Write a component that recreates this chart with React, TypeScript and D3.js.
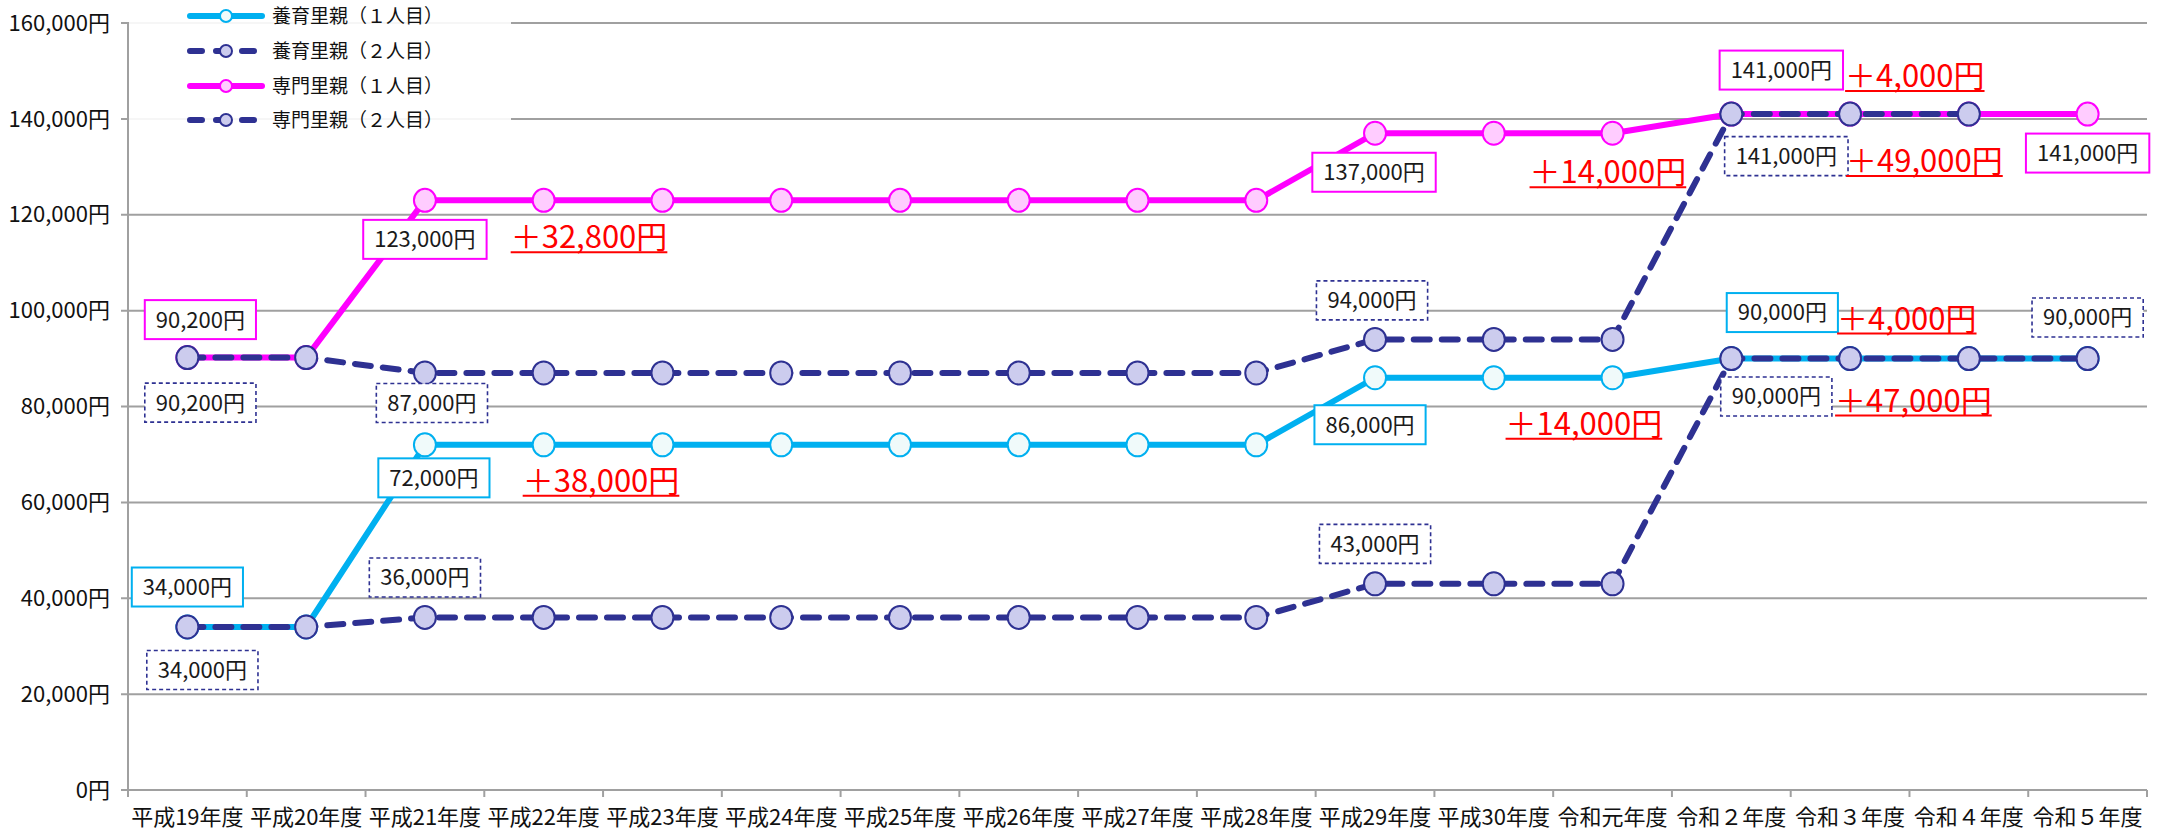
import React, { useEffect, useRef } from "react";
import * as d3 from "d3";

const categories = [
  "平成19年度", "平成20年度", "平成21年度", "平成22年度", "平成23年度", "平成24年度",
  "平成25年度", "平成26年度", "平成27年度", "平成28年度", "平成29年度", "平成30年度",
  "令和元年度", "令和２年度", "令和３年度", "令和４年度", "令和５年度",
];

const yoiku1 = [34000, 34000, 72000, 72000, 72000, 72000, 72000, 72000, 72000, 72000, 86000, 86000, 86000, 90000, 90000, 90000, 90000];
const yoiku2 = [34000, 34000, 36000, 36000, 36000, 36000, 36000, 36000, 36000, 36000, 43000, 43000, 43000, 90000, 90000, 90000, 90000];
const senmon1 = [90200, 90200, 123000, 123000, 123000, 123000, 123000, 123000, 123000, 123000, 137000, 137000, 137000, 141000, 141000, 141000, 141000];
const senmon2: (number | null)[] = [90200, 90200, 87000, 87000, 87000, 87000, 87000, 87000, 87000, 87000, 94000, 94000, 94000, 141000, 141000, 141000, null];

const seriesNames = ["養育里親（１人目）", "養育里親（２人目）", "専門里親（１人目）", "専門里親（２人目）"];

const yTicks = [0, 20000, 40000, 60000, 80000, 100000, 120000, 140000, 160000];

// data labels: series index, category index
const dataLabels = [
  { s: 2, c: 0 }, { s: 3, c: 0 }, { s: 2, c: 2 }, { s: 3, c: 2 }, { s: 0, c: 2 },
  { s: 0, c: 0 }, { s: 1, c: 0 }, { s: 1, c: 2 },
  { s: 2, c: 10 }, { s: 3, c: 10 }, { s: 0, c: 10 }, { s: 1, c: 10 },
  { s: 2, c: 13 }, { s: 3, c: 13 }, { s: 2, c: 16 }, { s: 0, c: 13 }, { s: 1, c: 13 }, { s: 1, c: 16 },
];
// offsets of label centers from their points (layout)
const dataLabelOffsets = [
  [13, -38], [13, 45], [0, 39], [7, 30], [9, 33],
  [0, -40], [15, 43], [0, -40],
  [-1, 39], [-3, -39], [-5, 47], [0, -40],
  [50, -44], [55, 42], [0, 39], [51, -46], [45, 38], [0, -41],
];

// increase annotations: text, anchor series, anchor category
const increases = [
  { text: "＋32,800円", s: 2, c: 3 },
  { text: "＋38,000円", s: 0, c: 3 },
  { text: "＋14,000円", s: 2, c: 12 },
  { text: "＋14,000円", s: 0, c: 12 },
  { text: "＋4,000円", s: 2, c: 14 },
  { text: "＋49,000円", s: 3, c: 14 },
  { text: "＋4,000円", s: 0, c: 14 },
  { text: "＋47,000円", s: 1, c: 14 },
];
const increaseOffsets = [
  [-33, 48], [-21, 47], [-83, 50], [-107, 57], [-5, -27], [-4, 58], [-13, -29], [-15, 53],
];

const W = 2161;
const H = 830;
const FONT = "'Noto Sans CJK JP', 'Noto Sans', sans-serif";

export default function App() {
  const ref = useRef<SVGSVGElement>(null);

  useEffect(() => {
    const svg = d3.select(ref.current);
    svg.selectAll("*").remove();

    const left = 128, right = 2147, top = 23, bottom = 790;
    const x = d3.scaleBand<string>().domain(categories).range([left, right]);
    const y = d3.scaleLinear().domain([0, 160000]).range([bottom, top]);
    const cx = (i: number) => (x(categories[i]) as number) + x.bandwidth() / 2;

    const allSeries = [yoiku1, yoiku2, senmon1, senmon2];
    const styles = [
      { color: "#00B0F0", fill: "#F0FAFA", dashed: false, markerStroke: "#00B0F0" },
      { color: "#2E3192", fill: "#CCCCEE", dashed: true, markerStroke: "#2E3192" },
      { color: "#FF00FF", fill: "#FFCCFF", dashed: false, markerStroke: "#FF00FF" },
      { color: "#2E3192", fill: "#CCCCEE", dashed: true, markerStroke: "#2E3192" },
    ];

    // gridlines
    const g = svg.append("g");
    g.selectAll("line.grid")
      .data(yTicks)
      .enter()
      .append("line")
      .attr("x1", left - 7)
      .attr("x2", right)
      .attr("y1", (d) => y(d))
      .attr("y2", (d) => y(d))
      .attr("stroke", "#A0A0A0")
      .attr("stroke-width", 2);

    // y axis line
    g.append("line").attr("x1", left).attr("x2", left).attr("y1", top).attr("y2", bottom + 7)
      .attr("stroke", "#A0A0A0").attr("stroke-width", 2);

    // x ticks
    const boundaries = d3.range(categories.length + 1).map((i) => left + i * x.bandwidth());
    g.selectAll("line.xt").data(boundaries).enter().append("line")
      .attr("x1", (d) => d).attr("x2", (d) => d).attr("y1", bottom).attr("y2", bottom + 7)
      .attr("stroke", "#A0A0A0").attr("stroke-width", 2);

    // y labels
    g.selectAll("text.yl").data(yTicks).enter().append("text")
      .attr("x", left - 18).attr("y", (d) => y(d)).attr("dy", "0.35em")
      .attr("text-anchor", "end").attr("font-family", FONT).attr("font-size", 22).attr("fill", "#111")
      .text((d) => d3.format(",")(d) + "円");

    // x labels
    g.selectAll("text.xl").data(categories).enter().append("text")
      .attr("x", (_d, i) => cx(i)).attr("y", 825)
      .attr("text-anchor", "middle").attr("font-family", FONT).attr("font-size", 22).attr("fill", "#111")
      .text((d) => d);

    const drawOrder = [0, 2, 1, 3];
    drawOrder.forEach((si) => {
      const data = allSeries[si];
      const st = styles[si];
      const line = d3.line<number | null>()
        .defined((d) => d !== null)
        .x((_d, i) => cx(i))
        .y((d) => y(d as number));
      svg.append("path").datum(data).attr("d", line as any)
        .attr("fill", "none").attr("stroke", st.color).attr("stroke-width", 6)
        .attr("stroke-linecap", st.dashed ? "round" : "butt")
        .attr("stroke-linejoin", "round")
        .attr("stroke-dasharray", st.dashed ? "16 12" : null);
      const pts = data.map((v, i) => ({ v, i })).filter((p) => p.v !== null);
      svg.append("g").selectAll("ellipse").data(pts).enter().append("ellipse")
        .attr("cx", (p) => cx(p.i)).attr("cy", (p) => y(p.v as number))
        .attr("rx", 11).attr("ry", 11.5)
        .attr("fill", st.fill).attr("stroke", st.markerStroke).attr("stroke-width", 2);
    });

    // data labels
    dataLabels.forEach((lb, k) => {
      const v = allSeries[lb.s][lb.c] as number;
      const [dx, dy] = dataLabelOffsets[k];
      const px = cx(lb.c) + dx;
      const py = y(v) + dy;
      const st = styles[lb.s];
      const lg = svg.append("g");
      const rect = lg.append("rect");
      const t = lg.append("text")
        .attr("x", px).attr("y", py).attr("dy", "0.36em").attr("text-anchor", "middle")
        .attr("font-family", FONT).attr("font-size", 22).attr("fill", "#1a1a1a")
        .text(d3.format(",")(v) + "円");
      const tw = (t.node() as SVGTextElement).getComputedTextLength();
      const bw = tw + 22, bh = 39;
      rect.attr("x", px - bw / 2).attr("y", py - bh / 2).attr("width", bw).attr("height", bh)
        .attr("fill", "#fff")
        .attr("stroke", st.dashed ? "#2E3192" : st.color)
        .attr("stroke-width", st.dashed ? 1.6 : 2)
        .attr("stroke-dasharray", st.dashed ? "4 3" : null);
    });

    // increase annotations
    increases.forEach((a, k) => {
      const v = allSeries[a.s][a.c] as number;
      const [dx, dy] = increaseOffsets[k];
      const px = cx(a.c) + dx;
      const py = y(v) + dy;
      const t = svg.append("text").attr("x", px).attr("y", py)
        .attr("font-family", FONT).attr("font-size", 31).attr("fill", "#FF0000")
        .text(a.text);
      const tw = (t.node() as SVGTextElement).getComputedTextLength();
      svg.append("line").attr("x1", px).attr("x2", px + tw).attr("y1", py + 4).attr("y2", py + 4)
        .attr("stroke", "#FF0000").attr("stroke-width", 2);
    });

    // legend
    const leg = svg.append("g");
    leg.append("rect").attr("x", left + 1).attr("y", 0).attr("width", 382).attr("height", 140)
      .attr("fill", "#fff").attr("fill-opacity", 0.9);
    const rows = [16, 51, 86, 120];
    seriesNames.forEach((name, i) => {
      const st = styles[i];
      const ry = rows[i];
      leg.append("line").attr("x1", 190).attr("x2", 262).attr("y1", ry).attr("y2", ry)
        .attr("stroke", st.color).attr("stroke-width", 6)
        .attr("stroke-linecap", "round")
        .attr("stroke-dasharray", st.dashed ? "12 14" : null);
      leg.append("circle").attr("cx", 226).attr("cy", ry).attr("r", 6)
        .attr("fill", st.fill).attr("stroke", st.markerStroke).attr("stroke-width", 2);
      leg.append("text").attr("x", 272).attr("y", ry).attr("dy", "0.36em")
        .attr("font-family", FONT).attr("font-size", 19).attr("fill", "#111")
        .text(name);
    });
  }, []);

  return (
    <svg
      ref={ref}
      width={W}
      height={H}
      style={{ position: "absolute", left: 0, top: 0, background: "#fff" }}
    />
  );
}
